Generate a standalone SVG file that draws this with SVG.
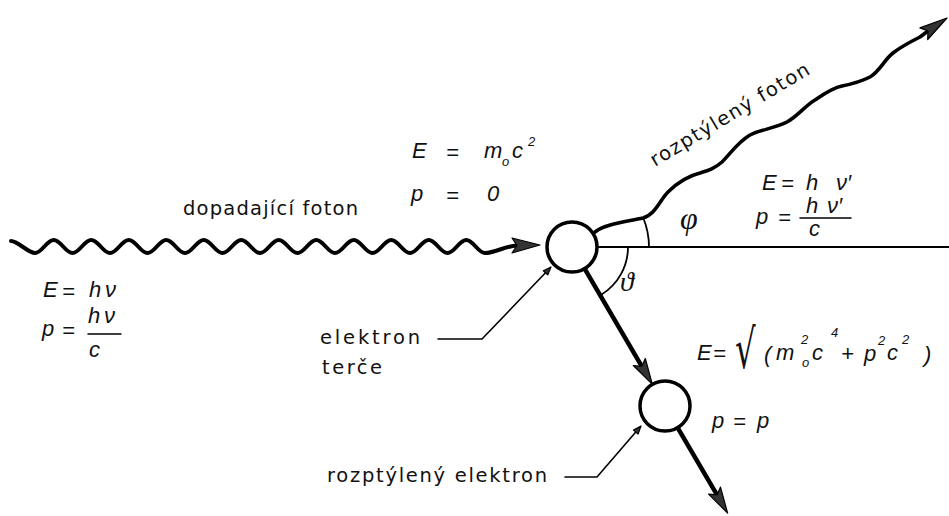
<svg xmlns="http://www.w3.org/2000/svg" width="949" height="516" viewBox="0 0 949 516">
<style>
.lbl{font-family:"DejaVu Sans","Open Sans",sans-serif;font-size:19.5px;fill:#111}
.f{font-family:"Liberation Sans",sans-serif;font-style:italic;font-size:22px;fill:#111}
.sm{font-size:13px}
.wave{fill:none;stroke:#000;stroke-width:4;stroke-linecap:round;stroke-linejoin:round}
.ln{fill:none;stroke:#000;stroke-linecap:round}
.ah{fill:#333;stroke:#000;stroke-width:1.2;stroke-linejoin:round}
.node{fill:#fff;stroke:#000;stroke-width:3.5}
.gk{font-family:"Liberation Serif",serif;font-style:italic;fill:#111}
.rt{font-family:"DejaVu Sans",sans-serif;font-style:normal;fill:#111}
</style>
<rect width="949" height="516" fill="#fff"/>
<g id="connectors">
  <path id="incoming-photon" class="wave" d="M 11,241 C 18,241 28,253 35,253 S 46.75,240 53.75,240 S 65.5,253 72.5,253 S 84.25,240 91.25,240 S 103,253 110,253 S 121.75,240 128.75,240 S 140.5,253 147.5,253 S 159.25,240 166.25,240 S 178,253 185,253 S 196.75,240 203.75,240 S 215.5,253 222.5,253 S 234.25,240 241.25,240 S 253,253 260,253 S 271.75,240 278.75,240 S 290.5,253 297.5,253 S 309.25,240 316.25,240 S 328,253 335,253 S 346.75,240 353.75,240 S 365.5,253 372.5,253 S 384.25,240 391.25,240 S 403,253 410,253 S 421.75,240 428.75,240 S 440.5,253 447.5,253 S 459.25,240 466.25,240 S 478,253 485,253 C 495,253 505,246 517,245.5"/>
  <polygon class="ah" points="540,245 512,238 517,245.5 512,253"/>
  <path id="scattered-photon" class="wave" style="stroke-width:3.6" d="M 595,232 C 605,224 625,222 643,218 C 655,215 660,200 668,192 C 676,184 688,176 700,173 C 710,170 715,168 722,162 C 730,154 738,142 750,135 C 760,130 775,128 787,122 C 798,116 806,105 815,100 C 824,94 832,88 842,86 C 852,84 862,81 870,77 C 880,71 884,60 893,53 C 902,46 912,41 920,37 L 928,31"/>
  <polygon class="ah" points="947,18 927.7,39.5 928,30.9 919.9,27.9"/>
  <line id="axis" class="ln" x1="597" y1="247" x2="949" y2="247" stroke-width="1.8"/>
  <path id="arc-phi" class="ln" stroke-width="1.8" d="M 643.3,218 A 77 77 0 0 1 649,247"/>
  <path id="arc-theta" class="ln" stroke-width="1.8" d="M 628,247 A 56 56 0 0 1 601.2,294.8"/>
  <line id="electron-1" class="ln" x1="584.6" y1="268.6" x2="641.8" y2="366.3" stroke-width="4.5"/>
  <polygon class="ah" points="652.4,384.4 645.3,358.5 641.8,366.3 633.3,365.5"/>
  <line id="electron-2" class="ln" x1="677.6" y1="427.6" x2="717" y2="494.9" stroke-width="4.5"/>
  <polygon class="ah" points="727.6,513 720.5,487.1 717,494.9 708.5,494.1"/>
  <polyline id="leader-target" class="ln" stroke-width="1.6" points="438,339 482,339 545.5,272.8"/>
  <polygon class="ah" points="551,267 547.7,274.9 543.3,270.7"/>
  <polyline id="leader-scattered" class="ln" stroke-width="1.6" points="565,477 597,477 635.8,432.1"/>
  <polygon class="ah" points="641,426 638.1,434.1 633.5,430.1"/>
</g>
<g id="target-electron">
  <circle class="node" cx="572" cy="247" r="25"/>
</g>
<g id="scattered-electron">
  <circle class="node" cx="665" cy="406" r="25"/>
</g>
<g id="label-incoming">
  <text class="lbl" x="183" y="215" textLength="175">dopadající foton</text>
</g>
<g id="label-scattered-photon">
  <text class="lbl" transform="translate(655,167) rotate(-31)" x="0" y="0" textLength="182">rozptýlený foton</text>
</g>
<g id="label-target">
  <text class="lbl" x="320" y="344" font-size="18" textLength="100">elektron</text>
  <text class="lbl" x="322" y="374" font-size="18" textLength="60">terče</text>
</g>
<g id="label-scattered-electron">
  <text class="lbl" x="327" y="482" textLength="220">rozptýlený elektron</text>
</g>
<g id="formula-incoming">
  <text class="f" x="43" y="297">E</text>
  <text class="f" x="62" y="299">=</text>
  <text class="f" x="89" y="297">h</text>
  <text class="f" x="105" y="297">ν</text>
  <text class="f" x="42" y="336">p</text>
  <text class="f" x="62" y="338">=</text>
  <text class="f" x="88" y="323">h</text>
  <text class="f" x="104" y="323">ν</text>
  <line class="ln" x1="88" y1="334" x2="121" y2="334" stroke-width="1.5"/>
  <text class="f" x="89" y="357">c</text>
</g>
<g id="formula-rest">
  <text class="f" x="412" y="158">E</text>
  <text class="f" x="446" y="160">=</text>
  <text class="f" x="484" y="158">m</text>
  <text class="f sm" x="502" y="166">o</text>
  <text class="f" x="512" y="158">c</text>
  <text class="f sm" x="528" y="146">2</text>
  <text class="f" x="411" y="201">p</text>
  <text class="f" x="446" y="203">=</text>
  <text class="f" x="487" y="201">0</text>
</g>
<g id="formula-scattered-photon">
  <text class="f" x="762" y="190">E</text>
  <text class="f" x="781" y="191">=</text>
  <text class="f" x="806" y="190">h</text>
  <text class="f" x="836" y="190">ν′</text>
  <text class="f" x="756" y="224">p</text>
  <text class="f" x="778" y="225">=</text>
  <text class="f" x="806" y="213">h</text>
  <text class="f" x="827" y="213">ν′</text>
  <line class="ln" x1="800" y1="218" x2="851" y2="218" stroke-width="1.5"/>
  <text class="f" x="809" y="236">c</text>
  <text class="gk" x="680" y="229" font-size="32">φ</text>
  <text class="gk" x="620" y="291" font-size="28">ϑ</text>
</g>
<g id="formula-scattered-electron">
  <text class="f" x="697" y="360" font-size="24">E</text>
  <text class="f" x="713" y="361" font-size="24">=</text>
  <text class="rt" transform="translate(735,368) scale(0.6,1)" x="0" y="0" font-size="54">√</text>
  <text class="f" x="764" y="362" font-size="26">(</text>
  <text class="f" x="776" y="360">m</text>
  <text class="f sm" x="802" y="367">o</text>
  <text class="f sm" x="801" y="344">2</text>
  <text class="f" x="812" y="360">c</text>
  <text class="f sm" x="831" y="337">4</text>
  <text class="f" x="841" y="361">+</text>
  <text class="f" x="864" y="361">p</text>
  <text class="f sm" x="878" y="345">2</text>
  <text class="f" x="887" y="360">c</text>
  <text class="f sm" x="902" y="344">2</text>
  <text class="f" x="924" y="362" font-size="26">)</text>
  <text class="f" x="712" y="428">p</text>
  <text class="f" x="733" y="429">=</text>
  <text class="f" x="757" y="428">p</text>
</g>
</svg>
